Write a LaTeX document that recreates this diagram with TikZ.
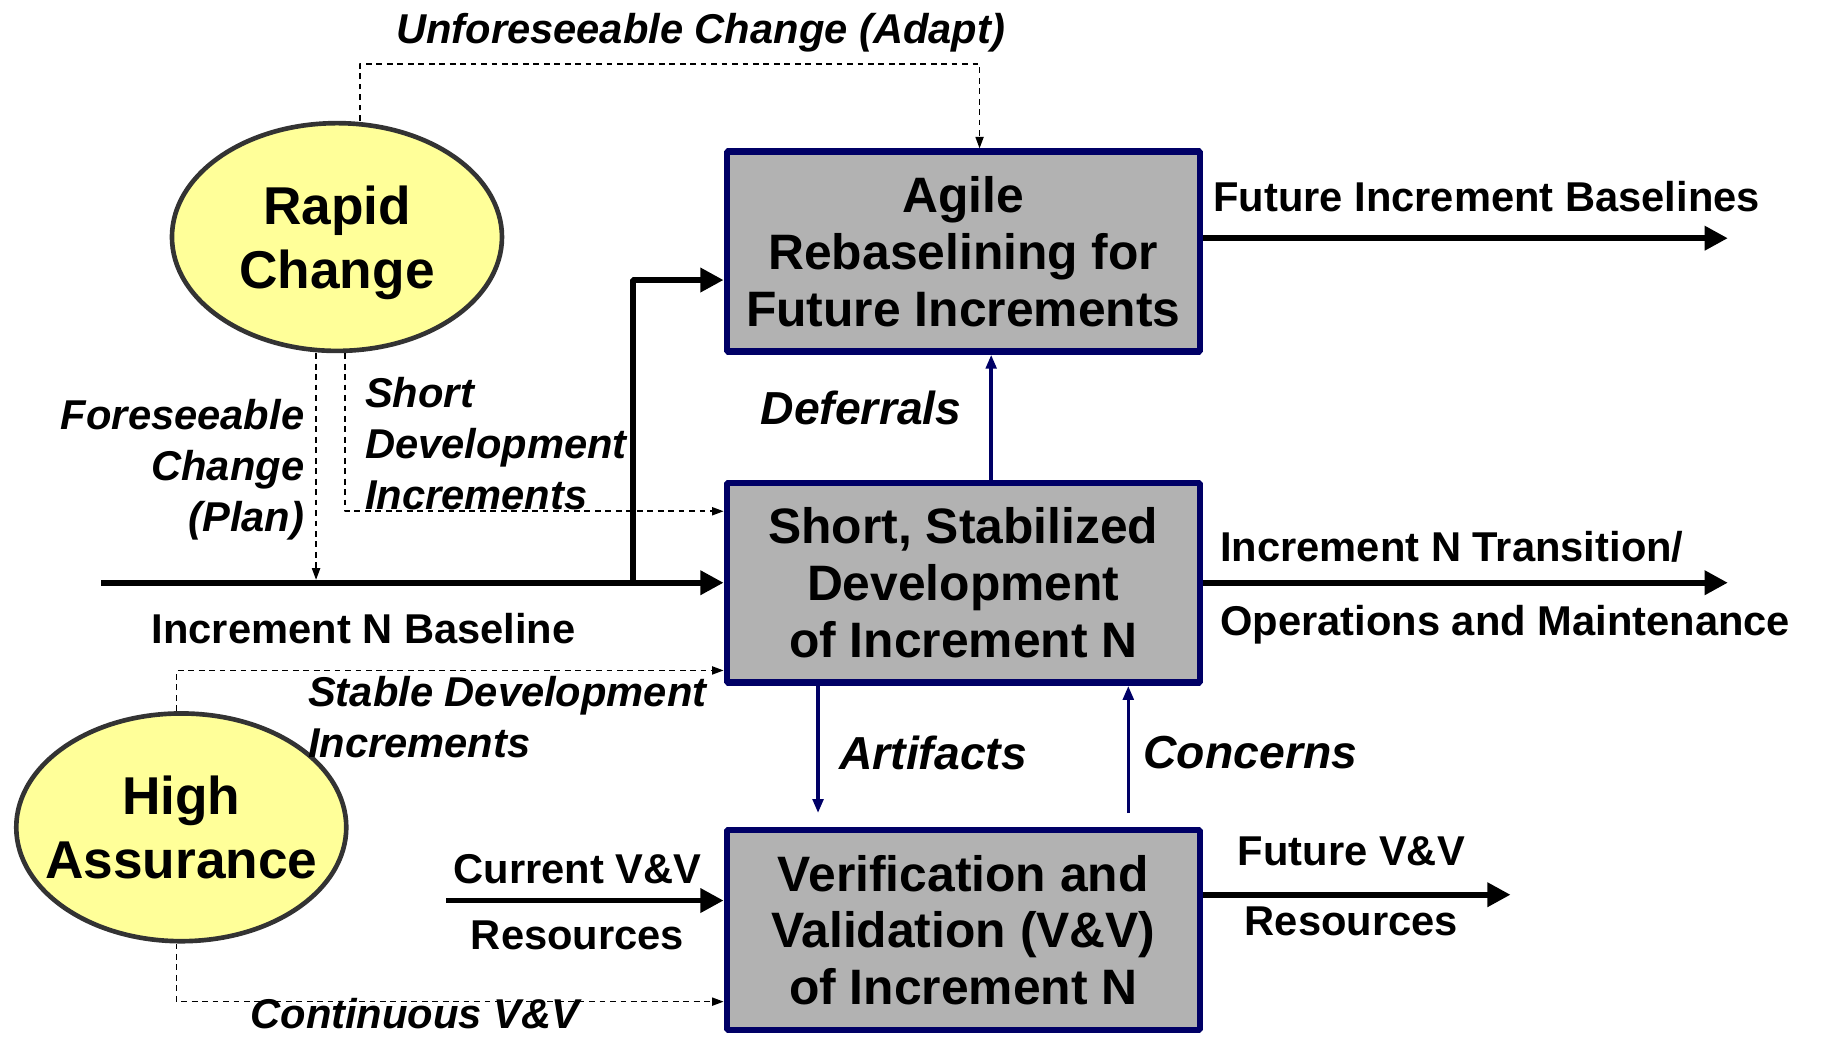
\documentclass[tikz,border=0pt]{standalone}
\usepackage{fontspec}
\setmainfont{Liberation Sans}
\usetikzlibrary{arrows.meta,shapes.geometric}
\definecolor{boxgray}{HTML}{B2B2B2}
\definecolor{boxnavy}{HTML}{000066}
\definecolor{blobyellow}{HTML}{FFFF99}
\definecolor{blobrim}{HTML}{333333}
\begin{document}
\begin{tikzpicture}[>=latex,line join=bevel,
  stepbox/.style={draw=boxnavy,fill=boxgray,line width=5.5bp,minimum width=407bp,minimum height=172bp,align=center,font=\fontsize{43}{49}\selectfont\bfseries},
  blob/.style={ellipse,draw=blobrim,fill=blobyellow,line width=4bp,minimum width=284bp,minimum height=196bp,inner xsep=-30bp,inner ysep=0pt,text depth=0pt,align=center,font=\fontsize{46}{55}\selectfont\bfseries},
  tag/.style={inner sep=0pt,font=\fontsize{36}{44}\selectfont\bfseries},
  note/.style={inner sep=0pt,font=\fontsize{36}{44}\selectfont\bfseries\itshape},
  cue/.style={inner sep=0pt,font=\fontsize{40}{48}\selectfont\bfseries\itshape},
  flow/.style={black,line width=5bp,-{Triangle[length=20bp,width=20bp]}},
  hint/.style={black,line width=1.4bp,dash pattern=on 5bp off 4bp,-{Triangle[length=10bp,width=7bp]}},
  feed/.style={boxnavy,line width=3bp,-{Triangle[length=12bp,width=9bp]}},
]
%%
\useasboundingbox (0,0) rectangle (1568bp,892bp);
\node (agile) at (829bp,675.5bp) [stepbox] {Agile\\Rebaselining for\\Future Increments};
  \node (short) at (829bp,390.5bp) [stepbox] {Short, Stabilized\\Development\\of Increment N};
  \node (vv) at (829bp,91.5bp) [stepbox] {Verification and\\Validation (V\&V)\\of Increment N};
  \node (rapid) at (290bp,688bp) [blob] {Rapid\\Change};
  \node (high) at (156bp,180bp) [blob] {High\\Assurance};
%
  \coordinate (basestart) at (87bp,390.5bp);
  \coordinate (branch) at (545bp,390.5bp);
  \coordinate (vvsrc) at (384bp,117bp);
  \coordinate (fibend) at (1487bp,687bp);
  \coordinate (transend) at (1487bp,390.5bp);
  \coordinate (fvvend) at (1300bp,122bp);
%
  \draw [flow] (basestart) -- (short.west);
  \draw [flow] (branch) |- ([yshift=-24.5bp]agile.west);
  \draw [flow] (vvsrc) -- (vv.west |- vvsrc);
  \draw [flow] (agile.east |- fibend) -- (fibend);
  \draw [flow] (short.east) -- (transend);
  \draw [flow] (vv.east |- fvvend) -- (fvvend);
%
  \draw [hint] ([xshift=20bp]rapid.north) -- ++(0,49bp) -| ([xshift=14bp]agile.north);
  \draw [hint,shorten >=2.5bp] ([xshift=-18bp]rapid.south) -- ([xshift=-18bp]rapid.south |- basestart);
  \draw [hint] ([xshift=7bp]rapid.south) |- ([yshift=61.5bp]short.west);
  \draw [hint] ([xshift=-4bp]high.north) |- ([yshift=-75.5bp]short.west);
  \draw [hint] ([xshift=-4bp]high.south) |- ([yshift=-61.5bp]vv.west);
%
  \draw [feed] ([xshift=24bp]short.north) -- ([xshift=24bp]agile.south);
  \draw [feed,shorten >=12bp] ([xshift=-125bp]short.south) -- ([xshift=-125bp]vv.north);
  \draw [feed,shorten <=12bp] ([xshift=142bp]vv.north) -- ([xshift=142bp]short.south);
%
  \node (unforeseen) at (603bp,864bp) [note] {Unforeseeable Change (Adapt)};
  \node (foreseen) at (262bp,488bp) [note,anchor=east,align=right] {Foreseeable\\Change\\(Plan)};
  \node (shortinc) at (314bp,510bp) [note,anchor=west,align=left] {Short\\Development\\Increments};
  \node (stableinc) at (265bp,274.5bp) [note,anchor=west,align=left] {Stable Development\\Increments};
  \node (contvv) at (357bp,7bp) [note,anchor=base] {Continuous V\&V};
  \node (baselabel) at (313bp,351bp) [tag] {Increment N Baseline};
  \node (curvv) at (497bp,144bp) [tag] {Current V\&V};
  \node (curres) at (497bp,87bp) [tag] {Resources};
  \node (fiblabel) at (1044bp,723bp) [tag,anchor=west] {Future Increment Baselines};
  \node (translabel) at (1050bp,421bp) [tag,anchor=west] {Increment N Transition/};
  \node (opslabel) at (1050bp,354bp) [tag,anchor=west] {Operations and Maintenance};
  \node (fvvlabel) at (1163bp,159bp) [tag] {Future V\&V};
  \node (fvvres) at (1163bp,99bp) [tag] {Resources};
  \node (deflabel) at (741bp,541bp) [cue] {Deferrals};
  \node (artlabel) at (803bp,244bp) [cue] {Artifacts};
  \node (conlabel) at (1076bp,244bp) [cue] {Concerns};
%
\end{tikzpicture}
\end{document}
